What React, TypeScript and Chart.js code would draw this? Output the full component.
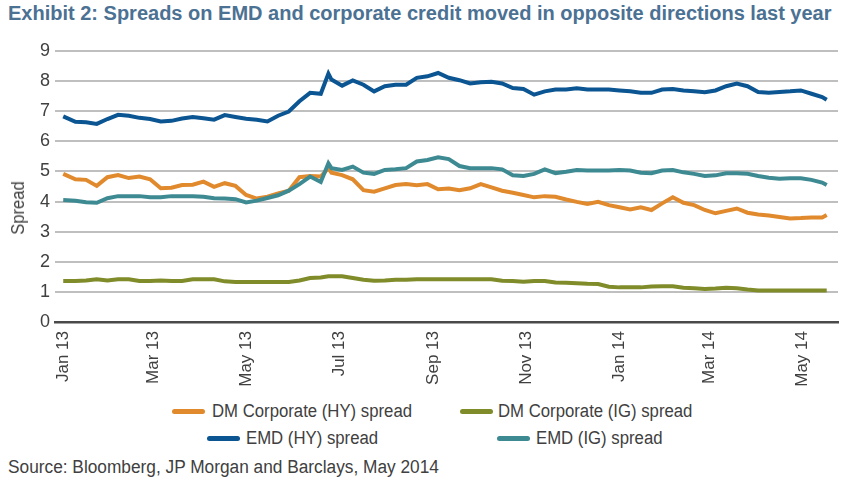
import React, { useEffect, useRef } from "react";
import { Chart, registerables } from "chart.js";

Chart.register(...registerables);

// Days since 1 Jan 2013 for each sampled observation
const sampleDays = [0, 8, 15, 22, 29, 36, 43, 50, 57, 64, 71, 78, 85, 92, 99, 106, 113, 120, 127, 134, 141, 148, 155, 162, 169, 174, 176, 183, 190, 197, 204, 211, 218, 225, 232, 239, 246, 253, 260, 267, 274, 281, 288, 295, 302, 309, 316, 323, 330, 337, 344, 351, 358, 365, 372, 379, 386, 393, 400, 407, 414, 421, 428, 435, 442, 449, 456, 463, 470, 477, 484, 491, 498, 501];

const dmCorpHY = [4.92, 4.74, 4.72, 4.52, 4.81, 4.88, 4.78, 4.83, 4.74, 4.44, 4.46, 4.55, 4.56, 4.66, 4.49, 4.61, 4.52, 4.22, 4.10, 4.16, 4.27, 4.36, 4.81, 4.85, 4.83, 5.11, 4.96, 4.88, 4.74, 4.38, 4.33, 4.44, 4.55, 4.58, 4.54, 4.58, 4.41, 4.43, 4.38, 4.44, 4.58, 4.47, 4.36, 4.29, 4.22, 4.14, 4.18, 4.16, 4.07, 3.99, 3.92, 3.99, 3.88, 3.81, 3.74, 3.81, 3.72, 3.94, 4.14, 3.96, 3.88, 3.72, 3.61, 3.69, 3.77, 3.63, 3.57, 3.54, 3.49, 3.44, 3.45, 3.47, 3.47, 3.55];

const dmCorpIG = [1.36, 1.36, 1.38, 1.42, 1.38, 1.42, 1.42, 1.36, 1.36, 1.38, 1.36, 1.36, 1.42, 1.42, 1.42, 1.35, 1.33, 1.33, 1.33, 1.33, 1.33, 1.33, 1.38, 1.46, 1.48, 1.52, 1.52, 1.52, 1.46, 1.40, 1.37, 1.38, 1.40, 1.40, 1.42, 1.42, 1.42, 1.42, 1.42, 1.42, 1.42, 1.42, 1.37, 1.36, 1.34, 1.36, 1.36, 1.31, 1.30, 1.29, 1.27, 1.26, 1.17, 1.15, 1.15, 1.15, 1.18, 1.19, 1.19, 1.14, 1.12, 1.10, 1.11, 1.14, 1.12, 1.08, 1.05, 1.05, 1.05, 1.05, 1.05, 1.05, 1.05, 1.05];

const emdHY = [6.83, 6.65, 6.63, 6.58, 6.74, 6.88, 6.85, 6.78, 6.74, 6.66, 6.68, 6.76, 6.81, 6.77, 6.72, 6.87, 6.81, 6.75, 6.72, 6.66, 6.85, 6.99, 7.33, 7.61, 7.58, 8.25, 8.05, 7.85, 8.02, 7.88, 7.66, 7.83, 7.88, 7.88, 8.11, 8.16, 8.27, 8.11, 8.03, 7.92, 7.96, 7.98, 7.92, 7.77, 7.74, 7.55, 7.66, 7.72, 7.72, 7.76, 7.72, 7.72, 7.72, 7.69, 7.66, 7.61, 7.61, 7.72, 7.74, 7.69, 7.66, 7.63, 7.69, 7.83, 7.92, 7.83, 7.64, 7.61, 7.64, 7.66, 7.69, 7.58, 7.47, 7.38];

const emdIG = [4.05, 4.03, 3.98, 3.96, 4.11, 4.18, 4.18, 4.18, 4.14, 4.14, 4.18, 4.18, 4.18, 4.16, 4.11, 4.10, 4.08, 3.97, 4.03, 4.12, 4.21, 4.36, 4.58, 4.83, 4.65, 5.27, 5.11, 5.05, 5.16, 4.96, 4.92, 5.05, 5.07, 5.11, 5.33, 5.38, 5.47, 5.41, 5.18, 5.11, 5.11, 5.11, 5.07, 4.87, 4.85, 4.92, 5.07, 4.94, 4.99, 5.05, 5.03, 5.03, 5.03, 5.05, 5.03, 4.96, 4.94, 5.03, 5.05, 4.97, 4.92, 4.85, 4.87, 4.94, 4.94, 4.92, 4.85, 4.79, 4.76, 4.77, 4.77, 4.72, 4.63, 4.55];

// X-axis ticks: first day of alternate months (days since 1 Jan 2013)
const tickDays = [0, 59, 120, 181, 243, 304, 365, 424, 485];
const tickLabels = ["Jan 13", "Mar 13", "May 13", "Jul 13", "Sep 13", "Nov 13", "Jan 14", "Mar 14", "May 14"];

const seriesNames = ["DM Corporate (HY) spread", "DM Corporate (IG) spread", "EMD (HY) spread", "EMD (IG) spread"];
const seriesColors = ["#E08A2D", "#808C2A", "#0B5592", "#3E8A92"];

const TITLE = "Exhibit 2: Spreads on EMD and corporate credit moved in opposite directions last year";
const SOURCE = "Source: Bloomberg, JP Morgan and Barclays, May 2014";

const NARROW = '"Liberation Sans Narrow", "Arial Narrow", "Liberation Sans", Arial, sans-serif';
const SANS = '"Liberation Sans", Arial, sans-serif';

export default function App() {
  const canvasRef = useRef<HTMLCanvasElement | null>(null);

  useEffect(() => {
    const canvas = canvasRef.current;
    if (!canvas) return;
    const series = [dmCorpHY, dmCorpIG, emdHY, emdIG];
    const drawOrder = [3, 4, 2, 1];
    const chart = new Chart(canvas, {
      type: "line",
      data: {
        datasets: series.map((vals, si) => ({
          label: seriesNames[si],
          data: sampleDays.map((d, i) => ({ x: d, y: vals[i] })),
          borderColor: seriesColors[si],
          backgroundColor: seriesColors[si],
          borderWidth: 4,
          pointRadius: 0,
          tension: 0,
          fill: false,
          order: drawOrder[si],
        })),
      },
      options: {
        animation: false,
        responsive: false,
        maintainAspectRatio: false,
        layout: { padding: { top: 51, right: 16, left: 0, bottom: 0 } },
        plugins: {
          legend: { display: false },
          tooltip: { enabled: false },
          title: { display: false },
        },
        scales: {
          x: {
            type: "linear",
            min: -5.4,
            max: 508.4,
            grid: { display: false, drawTicks: false },
            border: { display: true, color: "#4a4a4a", width: 2.5 },
            afterBuildTicks: (scale: any) => {
              scale.ticks = tickDays.map((v) => ({ value: v }));
            },
            afterFit: (scale: any) => {
              scale.height = 72;
            },
            ticks: {
              autoSkip: false,
              maxRotation: 90,
              minRotation: 90,
              padding: 9,
              color: "#404040",
              font: { family: SANS, size: 17 },
              callback: (v: any) => {
                const idx = tickDays.indexOf(Number(v));
                return idx >= 0 ? tickLabels[idx] : "";
              },
            },
          },
          y: {
            min: 0,
            max: 9,
            grid: { color: "#bfbfbf", lineWidth: 2, drawTicks: false },
            border: { display: false },
            afterFit: (scale: any) => {
              scale.width = 55;
            },
            ticks: {
              stepSize: 1,
              padding: 5,
              color: "#404040",
              font: { family: SANS, size: 18 },
            },
          },
        },
      },
    });
    return () => chart.destroy();
  }, []);

  const legendItems = [
    { i: 0, sx: 172, tx: 212, y: 411 },
    { i: 1, sx: 460, tx: 498, y: 411 },
    { i: 2, sx: 207, tx: 246, y: 438 },
    { i: 3, sx: 497, tx: 536, y: 438 },
  ];

  return (
    <div style={{ position: "absolute", left: 0, top: 0, width: 854, height: 486, background: "#ffffff", overflow: "hidden" }}>
      <div
        style={{
          position: "absolute",
          left: 8,
          top: 3,
          font: `bold 20px ${SANS}`,
          lineHeight: "20px",
          color: "#4b7193",
          whiteSpace: "nowrap",
        }}
      >
        {TITLE}
      </div>
      <canvas ref={canvasRef} width={854} height={394} style={{ position: "absolute", left: 0, top: 0, width: 854, height: 394 }} />
      <div
        style={{
          position: "absolute",
          left: 17.5,
          top: 207.5,
          transform: "translate(-50%, -50%) rotate(-90deg) scaleX(0.92)",
          font: `18px ${NARROW}`,
          lineHeight: "18px",
          color: "#404040",
          whiteSpace: "nowrap",
        }}
      >
        Spread
      </div>
      {legendItems.map((it) => (
        <React.Fragment key={it.i}>
          <div
            style={{
              position: "absolute",
              left: it.sx,
              top: it.y - 2.5,
              width: 33,
              height: 5,
              borderRadius: 2.5,
              background: seriesColors[it.i],
            }}
          />
          <div
            style={{
              position: "absolute",
              left: it.tx,
              top: it.y - 9,
              font: `18px ${NARROW}`,
              lineHeight: "18px",
              color: "#404040",
              whiteSpace: "nowrap",
              transform: "scaleX(0.93)",
              transformOrigin: "0 50%",
            }}
          >
            {seriesNames[it.i]}
          </div>
        </React.Fragment>
      ))}
      <div
        style={{
          position: "absolute",
          left: 8,
          top: 458,
          font: `18px ${NARROW}`,
          lineHeight: "18px",
          color: "#404040",
          whiteSpace: "nowrap",
          transform: "scaleX(0.96)",
          transformOrigin: "0 50%",
        }}
      >
        {SOURCE}
      </div>
    </div>
  );
}
